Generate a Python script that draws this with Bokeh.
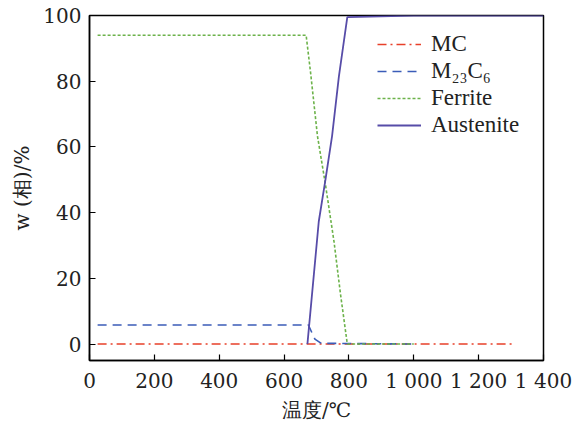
from bokeh.plotting import figure
from bokeh.models import FixedTicker, Legend, LegendItem, Range1d
from bokeh.embed import file_html
from bokeh.resources import INLINE

# Data
mc_t = [25, 1310]
mc_v = [0, 0]

m23_t = [25, 675, 695, 715, 760, 1000]
m23_v = [5.8, 5.8, 1.5, 0.2, 0.2, 0.0]

fer_t = [25, 668, 682, 703, 728, 754, 774, 795, 1000]
fer_v = [94, 94, 82.4, 63.3, 48.3, 31.2, 15.2, 0, 0]

aus_t = [672, 707, 728, 748, 769, 795, 1000, 1400]
aus_v = [0, 37.3, 50.3, 63.3, 81.4, 99.5, 100, 100]

x_ticks = [0, 200, 400, 600, 800, 1000, 1200, 1400]
x_tick_labels = ["0", "200", "400", "600", "800", "1 000", "1 200", "1 400"]
y_ticks = [0, 20, 40, 60, 80, 100]

AXFONT = "DejaVu Serif"
LEGFONT = "Liberation Serif"
TXT = "#222222"

p = figure(width=577, height=424, output_backend="svg", toolbar_location=None,
           x_range=Range1d(0, 1400), y_range=Range1d(-5, 100))
p.min_border_left = 89
p.min_border_right = 34
p.min_border_top = 15
p.min_border_bottom = 60
p.background_fill_color = "white"
p.border_fill_color = "white"
p.outline_line_color = "black"
p.outline_line_width = 1.5
p.xgrid.visible = False
p.ygrid.visible = False

r_mc = p.line(mc_t, mc_v, line_color="#e8402a", line_width=1.6, line_dash="9 4 2 4")
r_m23 = p.line(m23_t, m23_v, line_color="#3b5cb8", line_width=1.6, line_dash="9 6")
r_fer = p.line(fer_t, fer_v, line_color="#6cb24a", line_width=1.6, line_dash="3 2")
r_aus = p.line(aus_t, aus_v, line_color="#574ca8", line_width=1.8)

p.axis.major_tick_in = 6
p.axis.major_tick_out = 0
p.axis.minor_tick_line_color = None
p.axis.axis_line_color = "black"
p.axis.axis_line_width = 1.5
p.axis.major_tick_line_color = "black"
p.axis.major_tick_line_width = 1.2
p.axis.major_label_text_font = AXFONT
p.axis.major_label_text_font_size = "20px"
p.axis.major_label_text_color = TXT
p.axis.axis_label_text_font = AXFONT
p.axis.axis_label_text_font_size = "20px"
p.axis.axis_label_text_font_style = "normal"
p.axis.axis_label_text_color = TXT

p.xaxis.ticker = FixedTicker(ticks=x_ticks)
p.xaxis.major_label_overrides = {t: l for t, l in zip(x_ticks, x_tick_labels)}
p.xaxis.axis_label = "温度/℃"
p.xaxis.major_label_standoff = 8
p.xaxis.axis_label_standoff = 2

p.yaxis.ticker = FixedTicker(ticks=y_ticks)
p.yaxis.major_label_standoff = 8
p.yaxis.axis_label = "w (相)/%"
p.yaxis.axis_label_standoff = 6

legend = Legend(items=[
    LegendItem(label="MC", renderers=[r_mc]),
    LegendItem(label="M₂₃C₆", renderers=[r_m23]),
    LegendItem(label="Ferrite", renderers=[r_fer]),
    LegendItem(label="Austenite", renderers=[r_aus]),
], location=(288, 222))
legend.label_text_font = LEGFONT
legend.label_text_font_size = "23px"
legend.label_text_color = TXT
legend.glyph_width = 44
legend.label_standoff = 10
legend.spacing = 1
legend.padding = 0
legend.margin = 0
legend.border_line_color = None
legend.background_fill_alpha = 0
p.add_layout(legend)

open("out.html", "w").write(file_html(p, INLINE))
